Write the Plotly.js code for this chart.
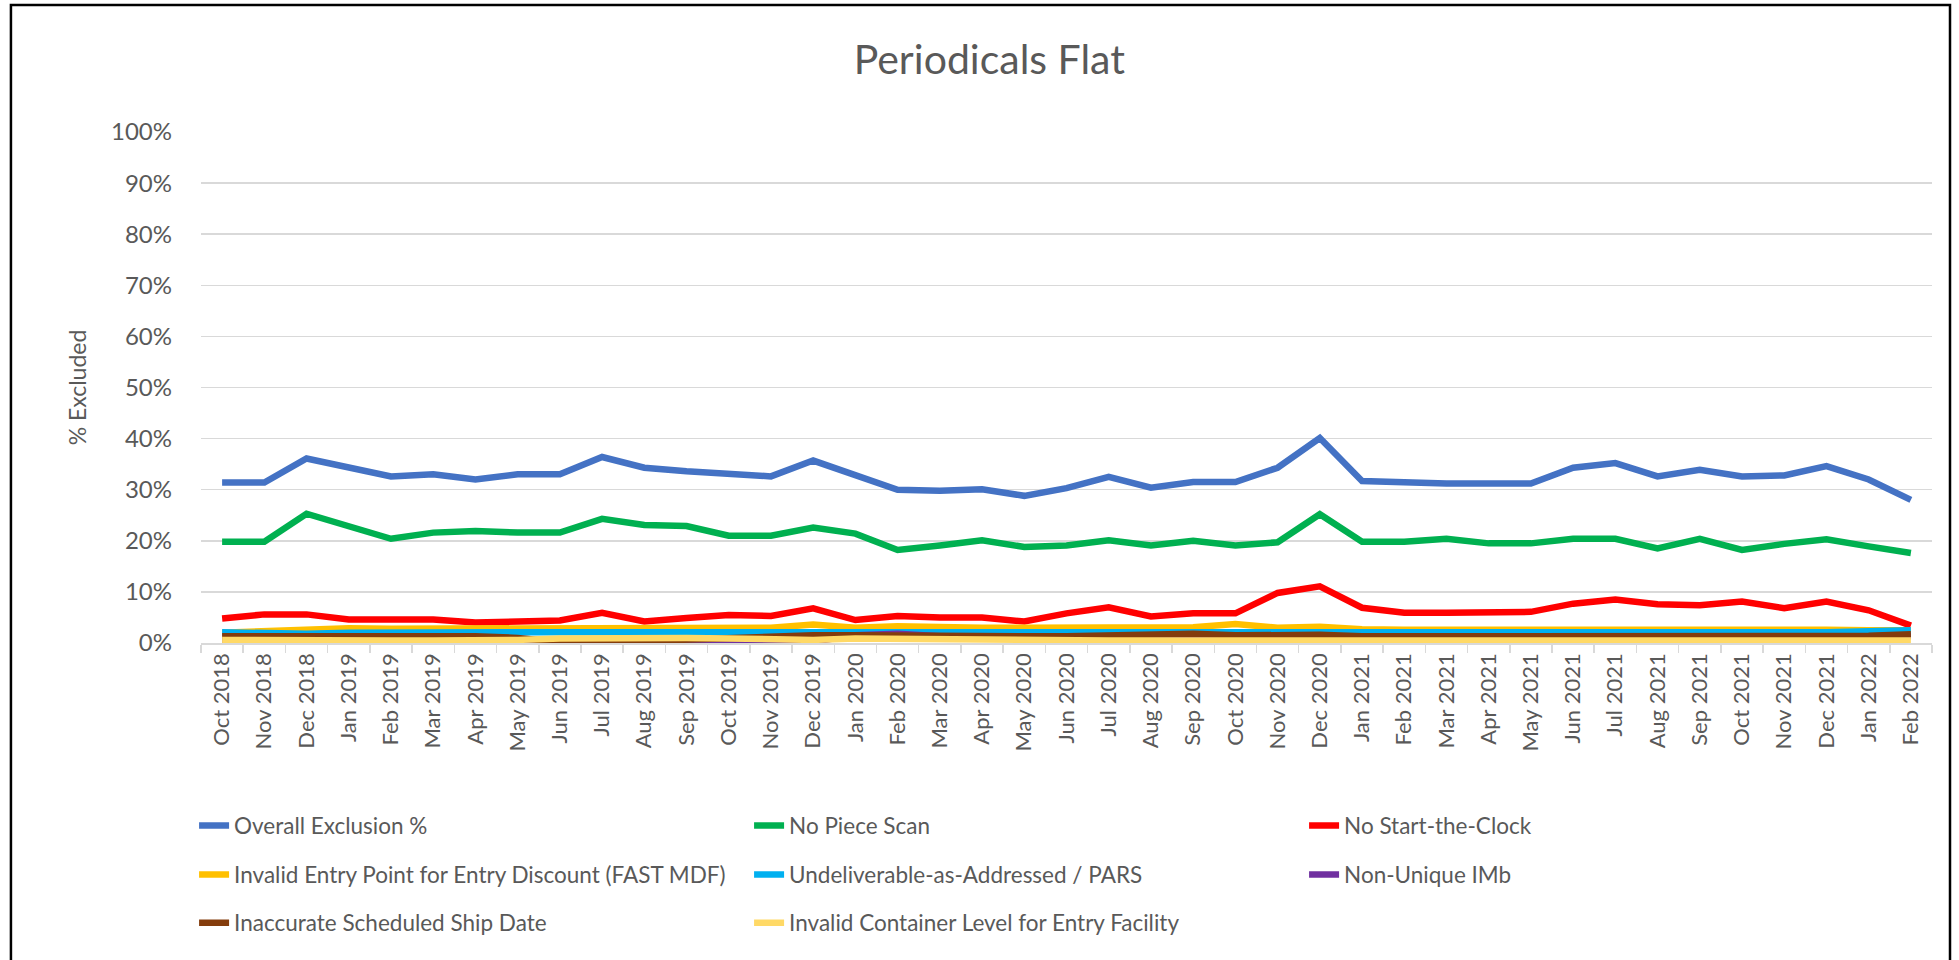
<!DOCTYPE html>
<html>
<head>
<meta charset="utf-8">
<script src="https://cdn.plot.ly/plotly-3.0.1.min.js"></script>
<style>
  html, body { margin: 0; padding: 0; background: #ffffff; }
  #chart { width: 1959px; height: 960px; }
</style>
</head>
<body>
<div id="chart"></div>
<script>
// Category labels (months)
const months = [
  "Oct 2018","Nov 2018","Dec 2018",
  "Jan 2019","Feb 2019","Mar 2019","Apr 2019","May 2019","Jun 2019","Jul 2019","Aug 2019","Sep 2019","Oct 2019","Nov 2019","Dec 2019",
  "Jan 2020","Feb 2020","Mar 2020","Apr 2020","May 2020","Jun 2020","Jul 2020","Aug 2020","Sep 2020","Oct 2020","Nov 2020","Dec 2020",
  "Jan 2021","Feb 2021","Mar 2021","Apr 2021","May 2021","Jun 2021","Jul 2021","Aug 2021","Sep 2021","Oct 2021","Nov 2021","Dec 2021",
  "Jan 2022","Feb 2022"
];

// Series values (% excluded)
const overallExclusion = [
  31.4, 31.4, 36.1,
  34.3, 32.6, 33.0, 32.0, 33.0, 33.0, 36.4, 34.3, 33.6, 33.0, 32.6, 35.7,
  33.0, 30.0, 29.8, 30.1, 28.8, 30.3, 32.5, 30.4, 31.5, 31.5, 34.3, 40.1,
  31.7, 31.4, 31.2, 31.2, 31.2, 34.3, 35.2, 32.6, 33.9, 32.6, 32.8, 34.6,
  32.0, 28.0
];
const noPieceScan = [
  19.8, 19.8, 25.3,
  22.7, 20.4, 21.6, 21.9, 21.6, 21.6, 24.3, 23.1, 22.9, 21.0, 21.0, 22.6,
  21.4, 18.2, 19.1, 20.1, 18.8, 19.1, 20.1, 19.1, 20.0, 19.1, 19.7, 25.2,
  19.8, 19.8, 20.4, 19.5, 19.5, 20.4, 20.4, 18.5, 20.4, 18.2, 19.4, 20.3,
  18.9, 17.6
];
const noStartTheClock = [
  4.8, 5.6, 5.6,
  4.6, 4.6, 4.6, 4.0, 4.3, 4.4, 5.9, 4.2, 4.9, 5.5, 5.3, 6.8,
  4.5, 5.3, 5.0, 5.0, 4.2, 5.8, 7.0, 5.2, 5.8, 5.8, 9.8, 11.1,
  6.9, 5.9, 5.9, 5.9, 6.1, 7.7, 8.5, 7.6, 7.4, 8.1, 6.8, 8.1,
  6.4, 3.4
];
const invalidEntryPoint = [
  2.0, 2.3, 2.7,
  2.9, 2.8, 2.8, 2.8, 2.8, 2.8, 2.9, 2.8, 3.0, 3.1, 3.0, 3.6,
  3.0, 3.3, 3.0, 3.0, 3.0, 3.0, 3.0, 3.1, 3.1, 3.7, 3.0, 3.2,
  2.7, 2.6, 2.6, 2.6, 2.7, 2.8, 2.8, 2.8, 2.9, 2.8, 2.7, 2.6,
  2.5, 2.5
];
const undeliverablePars = [
  2.1, 1.9, 1.8,
  2.0, 2.1, 2.1, 2.1, 2.1, 2.1, 2.1, 2.1, 2.1, 2.0, 2.0, 2.0,
  2.1, 2.2, 2.1, 2.0, 2.0, 2.1, 2.1, 2.1, 2.0, 1.9, 2.1, 2.0,
  2.0, 2.0, 2.0, 1.9, 2.0, 2.0, 2.0, 2.1, 2.1, 2.0, 2.0, 2.1,
  2.3, 2.5
];
const nonUniqueImb = [
  0.1, 0.1, 0.1,
  0.1, 0.1, 0.1, 0.1, 0.0, 0.0, 0.1, 0.0, 0.0, 0.0, 0.1, 0.3,
  1.5, 1.8, 1.3, 1.2, 1.2, 1.1, 1.2, 1.1, 1.2, 1.3, 1.2, 1.2,
  1.2, 1.2, 1.2, 1.2, 1.2, 1.3, 1.3, 1.3, 1.3, 1.2, 1.3, 1.2,
  1.3, 1.3
];
const inaccurateShipDate = [
  1.3, 1.3, 1.4,
  1.4, 1.4, 1.4, 1.3, 1.0, 0.2, 0.1, 0.4, 0.8, 1.1, 1.3, 1.5,
  1.5, 1.4, 1.2, 1.3, 1.3, 1.3, 1.4, 1.8, 1.8, 1.5, 1.6, 1.6,
  1.3, 1.3, 1.3, 1.2, 1.3, 1.3, 1.3, 1.3, 1.3, 1.3, 1.3, 1.3,
  1.4, 1.7
];
const invalidContainerLevel = [
  0.6, 0.5, 0.5,
  0.5, 0.5, 0.5, 0.5, 0.6, 0.9, 1.0, 1.0, 1.0, 0.9, 0.7, 0.6,
  0.9, 0.8, 0.6, 0.5, 0.5, 0.5, 0.5, 0.5, 0.5, 0.5, 0.5, 0.5,
  0.5, 0.5, 0.5, 0.5, 0.5, 0.5, 0.5, 0.5, 0.5, 0.5, 0.5, 0.5,
  0.5, 0.5
];

const seriesNames = [
  "Overall Exclusion %",
  "No Piece Scan",
  "No Start-the-Clock",
  "Invalid Entry Point for Entry Discount (FAST MDF)",
  "Undeliverable-as-Addressed / PARS",
  "Non-Unique IMb",
  "Inaccurate Scheduled Ship Date",
  "Invalid Container Level for Entry Facility"
];
const seriesValues = [
  overallExclusion, noPieceScan, noStartTheClock, invalidEntryPoint,
  undeliverablePars, nonUniqueImb, inaccurateShipDate, invalidContainerLevel
];
const seriesColors = ["#4472C4","#00B050","#FF0000","#FFC000","#00B0F0","#7030A0","#843C0C","#FFD966"];
const legendIds = ["legend","legend","legend","legend2","legend2","legend2","legend3","legend3"];

const FONT = "Lato, 'Open Sans', sans-serif";
const TXT = "#595959";

const traces = seriesNames.map((name, i) => ({
  type: "scatter",
  mode: "lines",
  name: name,
  x: months,
  y: seriesValues[i],
  line: { color: seriesColors[i], width: 6.5 },
  legend: legendIds[i],
  hoverinfo: "skip"
}));

const legendCommon = {
  orientation: "h",
  entrywidth: 510,
  entrywidthmode: "pixels",
  x: -0.004,
  xanchor: "left",
  yanchor: "middle",
  font: { family: FONT, size: 22.5, color: TXT },
  bgcolor: "rgba(0,0,0,0)",
  itemclick: false,
  itemdoubleclick: false
};

const layout = {
  width: 1959,
  height: 960,
  margin: { l: 201, r: 27, t: 132, b: 317 },
  paper_bgcolor: "#ffffff",
  plot_bgcolor: "#ffffff",
  font: { family: FONT, color: TXT },
  title: {
    text: "Periodicals Flat",
    font: { family: FONT, size: 41, color: TXT },
    x: 0.505, xanchor: "center",
    y: 0.9375, yanchor: "middle"
  },
  xaxis: {
    type: "category",
    range: [-0.5, months.length - 0.5],
    tickson: "boundaries",
    ticks: "outside",
    ticklen: 8,
    tickwidth: 1.5,
    tickcolor: "#d9d9d9",
    showline: true,
    linecolor: "#d9d9d9",
    linewidth: 1.5,
    showgrid: false,
    tickangle: -90,
    tickfont: { family: FONT, size: 22, color: TXT },
    fixedrange: true
  },
  yaxis: {
    range: [0, 100],
    dtick: 10,
    tick0: 0,
    ticksuffix: "%",
    showgrid: true,
    gridcolor: "#d9d9d9",
    gridwidth: 1.5,
    zeroline: false,
    showline: false,
    ticks: "",
    ticklabelstandoff: 28,
    tickfont: { family: FONT, size: 24, color: TXT },
    title: {
      text: "% Excluded",
      font: { family: FONT, size: 23, color: TXT },
      standoff: 17
    },
    fixedrange: true
  },
  legend: Object.assign({}, legendCommon, { y: -0.358 }),
  legend2: Object.assign({}, legendCommon, { y: -0.454 }),
  legend3: Object.assign({}, legendCommon, { y: -0.548 }),
  shapes: [{
    type: "rect",
    xref: "paper", yref: "paper",
    x0: -0.1098, x1: 1.0104,
    y0: -0.65, y1: 1.2485,
    line: { color: "#000000", width: 2.5 },
    fillcolor: "rgba(0,0,0,0)",
    layer: "above"
  }],
  showlegend: true
};

Plotly.newPlot("chart", traces, layout, { displayModeBar: false, staticPlot: true });
</script>
</body>
</html>
